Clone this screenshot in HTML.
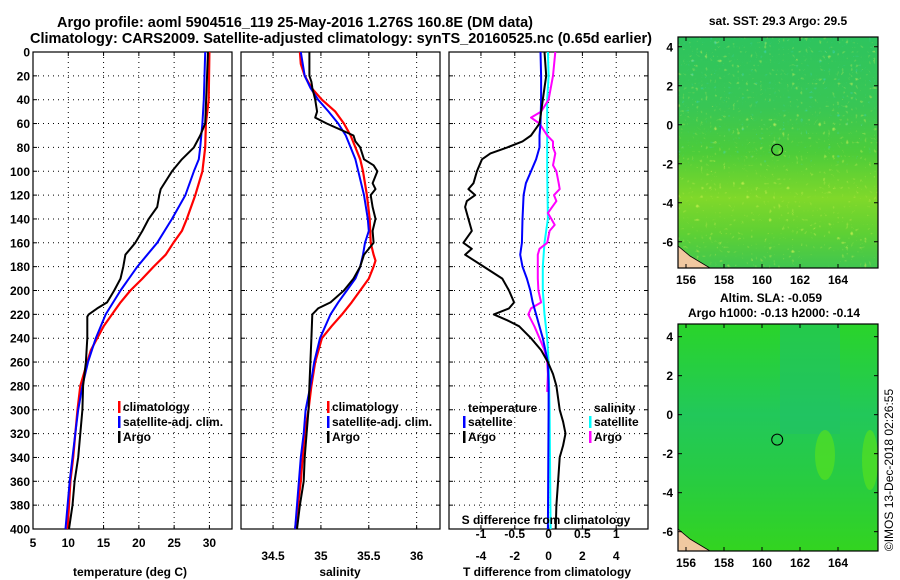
<!DOCTYPE html>
<html><head><meta charset="utf-8"><style>
body{margin:0;background:#fff}
svg{display:block;font-family:"Liberation Sans",Arial,sans-serif;font-weight:bold}
</style></head><body>
<svg id="fig" width="900" height="580" viewBox="0 0 900 580">
<rect width="900" height="580" fill="#fff"/>
<text x="57" y="27" font-size="15" textLength="476" lengthAdjust="spacingAndGlyphs">Argo profile: aoml 5904516_119 25-May-2016 1.276S 160.8E (DM data)</text>
<text x="30" y="43" font-size="15" textLength="622" lengthAdjust="spacingAndGlyphs">Climatology: CARS2009. Satellite-adjusted climatology: synTS_20160525.nc (0.65d earlier)</text>
<g id="plots"></g>
<g id="maps"></g>
<text transform="translate(893,470) rotate(-90)" font-size="12" font-weight="normal" text-anchor="middle">©IMOS 13-Dec-2018 02:26:55</text>
</svg>
<script>
// ---- data: depths (m) ----
const tDepth=[0,60,70,80,90,100,115,120,130,140,150,160,170,180,190,200,210,215,220,222,240,260,280,300,320,340,360,380,400];
const tArgo=[29.8,29.4,28.7,27.8,26.1,24.7,23.1,22.9,22.6,21.4,20.5,19.5,18.1,17.8,17.4,16.5,15.5,14.1,12.9,12.7,12.7,12.5,12.1,12.0,11.7,11.4,10.9,10.6,10.1];
const cDepth=[0,40,60,80,100,120,140,150,160,170,180,190,200,210,220,230,240,250,260,280,300,320,340,360,380,400];
const tClim=[30.0,29.9,29.5,29.4,29.0,28.0,26.8,26.1,24.9,23.8,22.1,20.5,18.8,17.4,16.2,15.0,14.1,13.2,12.7,11.7,11.3,11.0,10.7,10.3,10.1,9.9];
const sDepth=[0,40,60,80,90,100,120,140,160,170,180,200,220,240,260,280,300,320,340,360,380,400];
const tSat=[29.4,29.2,29.0,28.7,28.5,27.8,26.6,24.7,22.6,21.2,19.8,17.4,15.3,13.9,12.8,12.0,11.4,11.0,10.6,10.2,9.9,9.6];
const saDepth=[0,20,25,30,40,50,55,60,65,70,75,80,90,95,100,110,115,120,130,140,150,160,170,180,190,200,210,215,220,240,260,280,300,320,340,360,380,400];
const sArgo=[34.88,34.88,34.90,34.91,34.94,34.96,34.94,35.06,35.20,35.34,35.36,35.41,35.45,35.55,35.59,35.54,35.57,35.52,35.54,35.57,35.54,35.55,35.45,35.41,35.34,35.24,35.10,34.97,34.91,34.90,34.89,34.88,34.87,34.85,34.83,34.82,34.78,34.75];
const scDepth=[0,10,20,30,40,50,60,70,80,90,100,120,140,160,170,175,180,190,200,210,220,230,240,260,280,300,320,340,360,380,400];
const sClim=[34.78,34.79,34.83,34.90,35.01,35.15,35.24,35.31,35.36,35.41,35.44,35.48,35.51,35.52,35.55,35.57,35.55,35.50,35.41,35.32,35.22,35.11,35.01,34.94,34.90,34.87,34.83,34.81,34.79,34.76,34.73];
const ssDepth=[0,20,30,40,50,60,70,80,90,100,120,140,150,160,170,180,190,200,210,220,240,260,280,300,320,340,360,380,400];
const sSat=[34.79,34.83,34.89,34.97,35.08,35.18,35.26,35.31,35.36,35.39,35.45,35.49,35.50,35.46,35.44,35.41,35.36,35.27,35.18,35.10,34.99,34.93,34.89,34.84,34.82,34.79,34.77,34.75,34.73];
const dtDepth=[0,20,40,60,70,75,80,85,90,100,110,115,120,125,130,140,150,160,165,170,180,190,200,210,215,220,225,230,240,250,260,270,280,300,310,320,330,340,360,380,400];
const dtArgo=[-0.24,-0.14,-0.34,-0.54,-1.04,-1.54,-2.44,-3.44,-3.94,-4.24,-4.44,-4.74,-4.34,-4.84,-4.94,-4.74,-4.54,-5.04,-4.54,-4.94,-3.84,-2.74,-2.34,-2.04,-2.34,-3.24,-2.44,-1.74,-1.04,-0.44,-0.04,0.26,0.46,0.66,0.86,1.0,0.86,0.66,0.56,0.46,0.42];
const dtsDepth=[0,20,40,60,70,80,90,100,110,120,140,160,170,180,190,200,210,220,240,260,280,300,400];
const dtSat=[-0.48,-0.44,-0.44,-0.48,-0.54,-0.54,-0.74,-1.04,-1.34,-1.48,-1.54,-1.58,-1.68,-1.54,-1.28,-1.08,-0.94,-0.74,-0.34,-0.04,0,0,-0.04];
const dssDepth=[0,20,40,60,100,140,160,180,200,220,240,260,300,400];
const dsSat=[-0.01,0,-0.02,-0.02,-0.02,-0.01,-0.06,-0.085,-0.085,-0.06,-0.02,0,0.015,0.03];
const dsaDepth=[0,20,40,50,55,60,70,75,80,85,95,100,110,115,120,125,135,140,145,150,160,165,170,190,200,210,215,220,230,240,250,260,270,285];
const dsArgo=[0.1,0.065,0,-0.11,-0.26,-0.135,-0.02,0.065,0.065,0.1,0.065,0.115,0.15,0.165,0.08,0.115,-0.01,0.04,0.09,0.015,-0.02,-0.135,-0.16,-0.16,-0.15,-0.11,-0.26,-0.3,-0.21,-0.135,-0.06,-0.02,-0.01,-0.02];
const depthTicks=[0,20,40,60,80,100,120,140,160,180,200,220,240,260,280,300,320,340,360,380,400];
const tTicks=[5,10,15,20,25,30];
const sTicks=[34.5,35,35.5,36];
const dtTicks=[-4,-2,0,2,4];
const dsTicks=[-1,-0.5,0,0.5,1];
const latTicks=[4,2,0,-2,-4,-6];
const lonTicks=[156,158,160,162,164];

const NS='http://www.w3.org/2000/svg';
function mk(tag,attrs,parent){const e=document.createElementNS(NS,tag);for(const k in attrs)e.setAttribute(k,attrs[k]);parent.appendChild(e);return e;}
const plots=document.getElementById('plots');
const Y0=52,Y1=529;
const yD=d=>Y0+(d/400)*(Y1-Y0);

function panel(name,x0,x1,vmin,vmax,ticks,showY){
  const g=mk('g',{},plots);
  
  
  const sx=v=>x0+(v-vmin)/(vmax-vmin)*(x1-x0);
  depthTicks.forEach(d=>{
    if(d>0&&d<400){const l=mk('line',{x1:x0,x2:x1,y1:yD(d),y2:yD(d),stroke:'#000','stroke-width':1,'stroke-dasharray':'1,4'},g);
    }
    mk('line',{x1:x0,x2:x0+4,y1:yD(d),y2:yD(d),stroke:'#000'},g);
    mk('line',{x1:x1-4,x2:x1,y1:yD(d),y2:yD(d),stroke:'#000'},g);
    if(showY){const t=mk('text',{x:x0-3,y:yD(d)+4.5,'font-size':12,'text-anchor':'end'},g);t.textContent=d;
      }
  });
  ticks.forEach(v=>{
    const X=sx(v);
    mk('line',{x1:X,x2:X,y1:Y0,y2:Y1,stroke:'#000','stroke-dasharray':'1,4'},g);
    mk('line',{x1:X,x2:X,y1:Y1-4,y2:Y1,stroke:'#000'},g);
    mk('line',{x1:X,x2:X,y1:Y0,y2:Y0+4,stroke:'#000'},g);
  });
  const r=mk('rect',{x:x0,y:Y0,width:x1-x0,height:Y1-Y0,fill:'none',stroke:'#000','stroke-width':1.2},g);
  
  return {g,sx};
}
function line(p,depths,vals,color,w,name){
  const pts=depths.map((d,i)=>p.sx(vals[i]).toFixed(1)+','+yD(d).toFixed(1)).join(' ');
  const e=mk('polyline',{points:pts,fill:'none',stroke:color,'stroke-width':w,'stroke-linejoin':'round'},p.g);
  
  
}
function txt(g,x,y,s,size,anchor,name,color){const t=mk('text',{x:x,y:y,'font-size':size,'text-anchor':anchor||'start',fill:color||'#000'},g);t.textContent=s;
  return t;}
function legend(g,x,y,color,label,name){mk('rect',{x:x,y:y-10,width:2.5,height:12,fill:color},g);txt(g,x+5,y,label,12,'start',name);}

// panel 1 temperature
const p1=panel('temperature-panel',33,232,5,33.2,tTicks,true);
line(p1,cDepth,tClim,'#f00',2.2,'temperature-climatology-line');
line(p1,sDepth,tSat,'#00f',2,'temperature-satellite-line');
line(p1,tDepth,tArgo,'#000',2,'temperature-argo-line');
tTicks.forEach(v=>txt(p1.g,p1.sx(v),547,v,12,'middle','x-tick-label'));
txt(p1.g,130,576,'temperature (deg C)',12,'middle','x-axis-title');
legend(p1.g,118,411,'#f00','climatology','legend-climatology');
legend(p1.g,118,426,'#00f','satellite-adj. clim.','legend-satellite-adj');
legend(p1.g,118,441,'#000','Argo','legend-argo');

// panel 2 salinity
const p2=panel('salinity-panel',241,440,34.165,36.244,sTicks,false);
line(p2,scDepth,sClim,'#f00',2.2,'salinity-climatology-line');
line(p2,ssDepth,sSat,'#00f',2,'salinity-satellite-line');
line(p2,saDepth,sArgo,'#000',2,'salinity-argo-line');
sTicks.forEach(v=>txt(p2.g,p2.sx(v),560,v,12,'middle','x-tick-label'));
txt(p2.g,340,576,'salinity',12,'middle','x-axis-title');
legend(p2.g,327,411,'#f00','climatology','legend-climatology');
legend(p2.g,327,426,'#00f','satellite-adj. clim.','legend-satellite-adj');
legend(p2.g,327,441,'#000','Argo','legend-argo');

// panel 3 differences (T axis; S axis scaled x4)
const p3=panel('difference-panel',449,648,-5.89,5.88,dtTicks,false);
const p3s={g:p3.g,sx:v=>p3.sx(v*4)};
line(p3s,dssDepth,dsSat,'#0ff',2,'salinity-diff-satellite-line');
line(p3s,dsaDepth,dsArgo,'#f0f',2,'salinity-diff-argo-line');
line(p3,dtsDepth,dtSat,'#00f',2,'temperature-diff-satellite-line');
line(p3,dtDepth,dtArgo,'#000',2,'temperature-diff-argo-line');
dtTicks.forEach(v=>txt(p3.g,p3.sx(v),560,v,12,'middle','t-tick-label'));
dsTicks.forEach(v=>txt(p3.g,p3s.sx(v),538,v,12,'middle','s-tick-label'));
txt(p3.g,546,524,'S difference from climatology',12,'middle','s-axis-title');
txt(p3.g,547,576,'T difference from climatology',12,'middle','t-axis-title');
txt(p3.g,468,412,'temperature',12,'start','legend-temperature-heading');
legend(p3.g,463,426,'#00f','satellite','legend-t-satellite');
legend(p3.g,463,441,'#000','Argo','legend-t-argo');
txt(p3.g,594,412,'salinity',12,'start','legend-salinity-heading');
legend(p3.g,589,426,'#0ff','satellite','legend-s-satellite');
legend(p3.g,589,441,'#f0f','Argo','legend-s-argo');

// maps
const maps=document.getElementById('maps');
function map(name,y0,y1,latTop,top){
  const g=mk('g',{},maps);
  
  
  const x0=678,x1=878;
  const lx=v=>686+(v-156)*19;
  const ly=v=>y0+(latTop-v)*19.5;
  const id=name+'-grad';
  const defs=mk('defs',{},g);
  const lg=mk('linearGradient',{id:id,x1:0,y1:0,x2:0,y2:1},defs);
  const stops=top?[[0,'#2ec45e'],[0.3,'#38c655'],[0.5,'#4ccc3a'],[0.7,'#80d82a'],[0.85,'#5ed034'],[1,'#40c650']]
                 :[[0,'#2ad42a'],[0.4,'#22c85a'],[0.7,'#28cc40'],[1,'#33d420']];
  stops.forEach(s=>mk('stop',{offset:s[0],'stop-color':s[1]},lg));
  mk('rect',{x:x0,y:y0,width:x1-x0,height:y1-y0,fill:`url(#${id})`},g);
  if(top){
    const f1=mk('filter',{id:name+'-n',x:0,y:0,width:1,height:1},defs);
    mk('feTurbulence',{type:'turbulence',baseFrequency:0.22,numOctaves:1,seed:3},f1);
    mk('feColorMatrix',{type:'matrix',values:'0 0 0 0 0.75  0 0 0 0 0.92  0 0 0 0 0.1  3 0 0 0 -1.1'},f1);
    mk('rect',{x:x0,y:y0,width:x1-x0,height:y1-y0,filter:`url(#${name}-n)`,opacity:0.7},g);
    const f2=mk('filter',{id:name+'-b',x:0,y:0,width:1,height:1},defs);
    mk('feTurbulence',{type:'turbulence',baseFrequency:0.22,numOctaves:1,seed:11},f2);
    mk('feColorMatrix',{type:'matrix',values:'0 0 0 0 0.05  0 0 0 0 0.7  0 0 0 0 0.75  0 3 0 0 -1.3'},f2);
    mk('rect',{x:x0,y:y0,width:x1-x0,height:(y1-y0)*0.55,filter:`url(#${name}-b)`,opacity:0.6},g);
  } else {
    mk('rect',{x:780,y:y0,width:60,height:110,fill:'#1fbf6a',opacity:0.5},g);
    mk('ellipse',{cx:825,cy:455,rx:10,ry:25,fill:'#55e020',opacity:0.7},g);
    mk('ellipse',{cx:870,cy:460,rx:8,ry:30,fill:'#55e020',opacity:0.7},g);
  }
  mk('polygon',{points:`${x0},${y1} ${x0},${y1-22} ${x0+12},${y1-12} ${x0+32},${y1}`,fill:'#f0c8a0',stroke:'#000','stroke-width':0.8},g);
  const c=mk('circle',{cx:lx(160.8),cy:ly(-1.28),r:5.5,fill:'none',stroke:'#000','stroke-width':1},g);
  
  mk('rect',{x:x0,y:y0,width:x1-x0,height:y1-y0,fill:'none',stroke:'#000','stroke-width':1.2},g);
  latTicks.forEach(v=>{mk('line',{x1:x0,x2:x0+4,y1:ly(v),y2:ly(v),stroke:'#000'},g);mk('line',{x1:x1-4,x2:x1,y1:ly(v),y2:ly(v),stroke:'#000'},g);
    txt(g,x0-5,ly(v)+4.5,v,12,'end','lat-tick-label');});
  lonTicks.forEach(v=>{mk('line',{x1:lx(v),x2:lx(v),y1:y1-4,y2:y1,stroke:'#000'},g);mk('line',{x1:lx(v),x2:lx(v),y1:y0,y2:y0+4,stroke:'#000'},g);
    txt(g,lx(v),y1+16,v,12,'middle','lon-tick-label');});
}
map('sst-map',37,268,4.5,true);
map('sla-map',324,551,4.65,false);
txt(maps,778,25,'sat. SST: 29.3 Argo: 29.5',12,'middle','sst-map-title');
txt(maps,771,302,'Altim. SLA: -0.059',12,'middle','sla-map-title');
txt(maps,774,317,'Argo h1000: -0.13 h2000: -0.14',12,'middle','sla-map-subtitle');
</script>
</body></html>
